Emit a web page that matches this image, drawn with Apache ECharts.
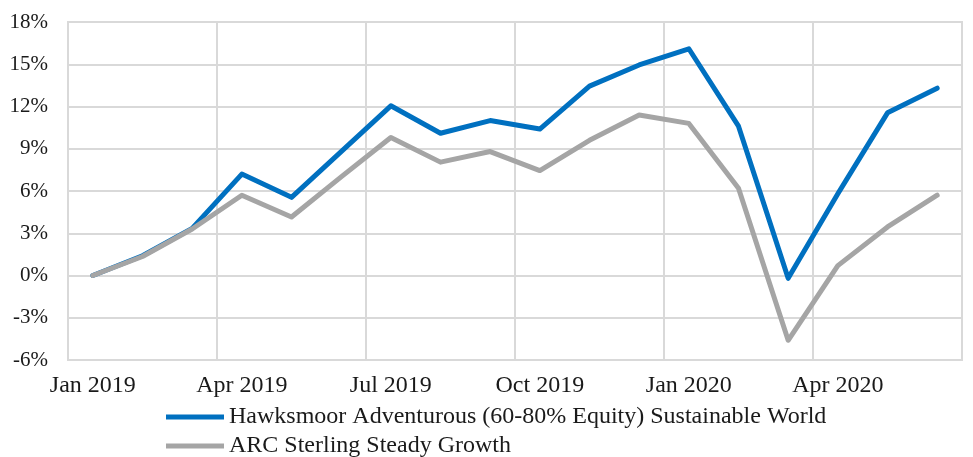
<!DOCTYPE html>
<html>
<head>
<meta charset="utf-8">
<script src="https://cdn.jsdelivr.net/npm/echarts@6/dist/echarts.min.js"></script>
<style>
  html, body { margin: 0; padding: 0; background: #fff; }
  #chart { width: 973px; height: 457px; }
</style>
</head>
<body>
<div id="chart"></div>
<script>
var months = ['Jan 2019', 'Feb 2019', 'Mar 2019', 'Apr 2019', 'May 2019', 'Jun 2019',
    'Jul 2019', 'Aug 2019', 'Sep 2019', 'Oct 2019', 'Nov 2019', 'Dec 2019',
    'Jan 2020', 'Feb 2020', 'Mar 2020', 'Apr 2020', 'May 2020', 'Jun 2020'];
var hawksmoorName = 'Hawksmoor Adventurous (60-80% Equity) Sustainable World';
var arcName = 'ARC Sterling Steady Growth';
var hawksmoor = [0, 1.4, 3.35, 7.2, 5.55, 8.8, 12.05, 10.1, 11.0, 10.4, 13.45, 14.95, 16.1, 10.6, -0.2, 5.8, 11.55, 13.3];
var arc = [0, 1.35, 3.3, 5.7, 4.15, 7.0, 9.8, 8.05, 8.8, 7.45, 9.6, 11.4, 10.8, 6.2, -4.6, 0.7, 3.45, 5.7];
var yTicks = { min: -6, max: 18, step: 3 };

var font = 'Liberation Serif';
var chart = echarts.init(document.getElementById('chart'));

function legendFor(name, top) {
    return {
        left: 161,
        top: top,
        itemWidth: 58,
        itemHeight: 5,
        icon: 'rect',
        data: [name],
        textStyle: { fontFamily: font, fontSize: 24, color: '#1a1a1a' }
    };
}

var option = {
    animation: false,
    textStyle: { fontFamily: font, color: '#1a1a1a' },
    grid: {
        left: 68, right: 11, top: 22, bottom: 97,
        show: true,
        borderColor: '#d9d9d9',
        borderWidth: 2
    },
    legend: [legendFor(hawksmoorName, 400), legendFor(arcName, 429)],
    xAxis: {
        type: 'category',
        data: months,
        boundaryGap: true,
        axisLine: { lineStyle: { color: '#d9d9d9', width: 2 } },
        axisTick: { show: false },
        axisLabel: { interval: 2, fontSize: 24, fontFamily: font, color: '#1a1a1a', margin: 14 },
        splitLine: { show: true, interval: 2, lineStyle: { color: '#d9d9d9', width: 2 } }
    },
    yAxis: {
        type: 'value',
        min: yTicks.min,
        max: yTicks.max,
        interval: yTicks.step,
        axisLine: { show: true, lineStyle: { color: '#d9d9d9', width: 2 } },
        axisTick: { show: false },
        axisLabel: { formatter: '{value}%', fontSize: 21, fontFamily: font, color: '#1a1a1a', margin: 20 },
        splitLine: { lineStyle: { color: '#d9d9d9', width: 2 } }
    },
    series: [
        {
            name: hawksmoorName,
            type: 'line',
            data: hawksmoor,
            showSymbol: false,
            symbol: 'none',
            itemStyle: { color: '#0070c0' },
            lineStyle: { color: '#0070c0', width: 5, cap: 'round', join: 'round' }
        },
        {
            name: arcName,
            type: 'line',
            data: arc,
            showSymbol: false,
            symbol: 'none',
            itemStyle: { color: '#a5a5a5' },
            lineStyle: { color: '#a5a5a5', width: 5, cap: 'round', join: 'round' }
        }
    ]
};

chart.setOption(option);
</script>
</body>
</html>
